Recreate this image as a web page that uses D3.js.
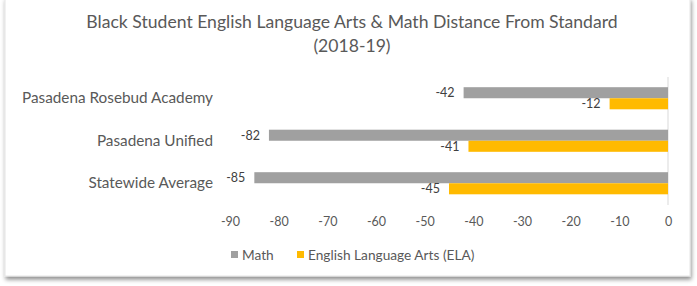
<!DOCTYPE html>
<html>
<head>
<meta charset="utf-8">
<script src="https://cdn.jsdelivr.net/npm/d3@7"></script>
<style>
  body { margin: 0; background: #fff; }
  svg { display: block; font-family: Lato, 'Open Sans', sans-serif; }
</style>
</head>
<body>
<div id="chart"><svg width="697" height="286"></svg></div>
<script>
const CATEGORIES = ['Pasadena Rosebud Academy', 'Pasadena Unified', 'Statewide Average'];
const SERIES = ['Math', 'English Language Arts (ELA)'];
const MATH = [-42, -82, -85];
const ELA = [-12, -41, -45];
const TICKS = [-90, -80, -70, -60, -50, -40, -30, -20, -10, 0];
const COLORS = ['#a0a0a0', '#ffba00'];

const SVG = d3.select('#chart svg');
const TEXT = '#595959';
const FONT = "Lato, 'Open Sans', sans-serif";

// card with shadow
const defs = SVG.append('defs');
const f = defs.append('filter').attr('id', 'shadow')
  .attr('x', '-5%').attr('y', '-5%').attr('width', '110%').attr('height', '115%');
f.append('feDropShadow').attr('dx', 1).attr('dy', 3).attr('stdDeviation', 2)
  .attr('flood-color', '#000').attr('flood-opacity', 0.45);

SVG.append('rect')
  .attr('x', 5).attr('y', -2).attr('width', 685).attr('height', 278)
  .style('fill', '#fff').style('stroke', '#e4e4e4')
  .attr('filter', 'url(#shadow)');

// title
SVG.append('text')
  .attr('x', 352).attr('y', 27.5)
  .attr('text-anchor', 'middle')
  .style('font-size', '17.6px').style('fill', TEXT)
  .text('Black Student English Language Arts & Math Distance From Standard');
SVG.append('text')
  .attr('x', 352).attr('y', 52)
  .attr('text-anchor', 'middle')
  .style('font-size', '17.6px').style('fill', TEXT)
  .text('(2018-19)');

const X_SCALE = d3.scaleLinear().domain([-90, 0]).range([230, 668]);
const Y_SCALE = d3.scaleBand().domain(CATEGORIES).range([77, 204.5])
  .paddingInner(0.48).paddingOuter(0.24);
const SUB = d3.scaleBand().domain(SERIES).range([0, Y_SCALE.bandwidth()]);

// x axis (labels only)
const X_AXIS = d3.axisBottom(X_SCALE).tickValues(TICKS).tickSize(0).tickPadding(0)
  .tickFormat(d => String(d));
const X_AXIS_G = SVG.append('g').attr('transform', 'translate(0,217)');
X_AXIS(X_AXIS_G);
X_AXIS_G.select('.domain').remove();
X_AXIS_G.selectAll('text').style('font-size', '12.5px').style('fill', TEXT)
  .style('font-family', FONT);

// zero line
SVG.append('line')
  .attr('x1', X_SCALE(0)).attr('x2', X_SCALE(0))
  .attr('y1', 77).attr('y2', 205)
  .style('stroke', '#d9d9d9').style('stroke-width', 1);

// y axis labels
const Y_AXIS = d3.axisLeft(Y_SCALE).tickSize(0).tickPadding(0);
const Y_AXIS_G = SVG.append('g').attr('transform', 'translate(213,0)');
Y_AXIS(Y_AXIS_G);
Y_AXIS_G.select('.domain').remove();
Y_AXIS_G.selectAll('text').style('font-size', '15.3px').style('fill', TEXT)
  .style('font-family', FONT);

const rows = [];
CATEGORIES.forEach((c, i) => {
  rows.push({ cat: c, series: SERIES[0], value: MATH[i], color: COLORS[0] });
  rows.push({ cat: c, series: SERIES[1], value: ELA[i], color: COLORS[1] });
});

const BARS = SVG.append('g').attr('id', 'bars');
BARS.selectAll('rect')
  .data(rows)
  .join('rect')
  .attr('x', d => X_SCALE(d.value))
  .attr('y', d => Y_SCALE(d.cat) + SUB(d.series))
  .attr('width', d => X_SCALE(0) - X_SCALE(d.value))
  .attr('height', SUB.bandwidth())
  .style('fill', d => d.color);

BARS.selectAll('text')
  .data(rows)
  .join('text')
  .attr('x', d => X_SCALE(d.value) - 9)
  .attr('y', d => Y_SCALE(d.cat) + SUB(d.series) + SUB.bandwidth() / 2)
  .attr('dy', '0.35em')
  .attr('text-anchor', 'end')
  .style('font-size', '12.5px').style('fill', '#404040')
  .text(d => d.value);

// legend
const LEGEND = SVG.append('g').attr('id', 'legend');
const LEG_X = [231, 297];
SERIES.forEach((s, i) => {
  LEGEND.append('rect')
    .attr('x', LEG_X[i]).attr('y', 251).attr('width', 7).attr('height', 7)
    .style('fill', COLORS[i]);
  LEGEND.append('text')
    .attr('x', LEG_X[i] + 11).attr('y', 259.5)
    .style('font-size', '13.7px').style('fill', TEXT)
    .text(s);
});
</script>
</body>
</html>
